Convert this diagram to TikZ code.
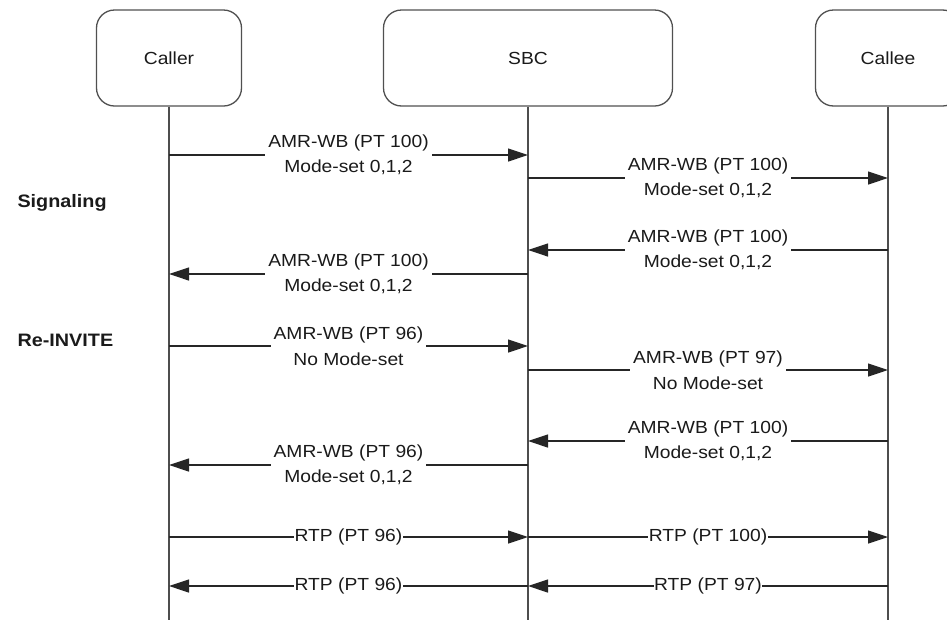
\documentclass[tikz,border=0pt]{standalone}
\usepackage{fontspec}
\newfontfamily\lblfont{Liberation Sans}[FakeStretch=1.1]
\usetikzlibrary{arrows.meta}
\definecolor{linecol}{HTML}{262626}
\definecolor{lifecol}{HTML}{4D4D4D}
\definecolor{boxcol}{HTML}{505050}
\definecolor{textcol}{HTML}{1A1A1A}
\begin{document}
\begin{tikzpicture}[x=1pt,y=-1pt,
  head/.style={draw=boxcol, line width=1.3pt, rounded corners=18pt, minimum height=96pt,
    text=textcol, font=\lblfont\fontsize{17.5}{21}\selectfont, inner sep=0pt},
  life/.style={draw=lifecol, line width=1.4pt},
  msg/.style={draw=linecol, line width=1.2pt, -{Triangle[length=20pt,width=13pt]}},
  lbl/.style={fill=white, inner xsep=3pt, inner ysep=0pt, align=center, text=textcol,
    font=\lblfont\fontsize{17.5}{25.5}\selectfont},
  rtp/.style={fill=white, inner xsep=0.5pt, inner ysep=0pt, text=textcol,
    font=\lblfont\fontsize{17.5}{21}\selectfont},
  side/.style={anchor=west, text=textcol, font=\lblfont\bfseries\fontsize{18}{21}\selectfont}]
\useasboundingbox (0,0) rectangle (947,619);
\clip (0,0) rectangle (947,619);
\fill[white] (0,0) rectangle (947,619);

\node[head, minimum width=145pt] (caller) at (169,58) {Caller};
\node[head, minimum width=289pt] (sbc) at (528,58) {SBC};
\node[head, minimum width=145pt] (callee) at (888,58) {Callee};

\coordinate (callerbot) at (caller.south |- 0,625);
\coordinate (sbcbot) at (sbc.south |- 0,625);
\coordinate (calleebot) at (callee.south |- 0,625);
\draw[life] (caller.south) -- (callerbot);
\draw[life] (sbc.south) -- (sbcbot);
\draw[life] (callee.south) -- (calleebot);

\node[side] (sig) at (14,203) {Signaling};
\node[side] (reinv) at (14,340) {Re-INVITE};

\draw[msg] (caller |- 0,155) -- node[lbl] {AMR-WB (PT 100)\\Mode-set 0,1,2} (sbc |- 0,155);
\draw[msg] (sbc |- 0,178) -- node[lbl] {AMR-WB (PT 100)\\Mode-set 0,1,2} (callee |- 0,178);
\draw[msg] (callee |- 0,250) -- node[lbl] {AMR-WB (PT 100)\\Mode-set 0,1,2} (sbc |- 0,250);
\draw[msg] (sbc |- 0,274) -- node[lbl] {AMR-WB (PT 100)\\Mode-set 0,1,2} (caller |- 0,274);

\draw[msg] (caller |- 0,346) -- node[lbl] {AMR-WB (PT 96)\\No Mode-set} (sbc |- 0,346);
\draw[msg] (sbc |- 0,370) -- node[lbl] {AMR-WB (PT 97)\\No Mode-set} (callee |- 0,370);
\draw[msg] (callee |- 0,441) -- node[lbl] {AMR-WB (PT 100)\\Mode-set 0,1,2} (sbc |- 0,441);
\draw[msg] (sbc |- 0,465) -- node[lbl] {AMR-WB (PT 96)\\Mode-set 0,1,2} (caller |- 0,465);

\draw[msg] (caller |- 0,537) -- node[rtp] {RTP (PT 96)} (sbc |- 0,537);
\draw[msg] (sbc |- 0,537) -- node[rtp] {RTP (PT 100)} (callee |- 0,537);
\draw[msg] (sbc |- 0,586) -- node[rtp] {RTP (PT 96)} (caller |- 0,586);
\draw[msg] (callee |- 0,586) -- node[rtp] {RTP (PT 97)} (sbc |- 0,586);
\end{tikzpicture}
\end{document}
